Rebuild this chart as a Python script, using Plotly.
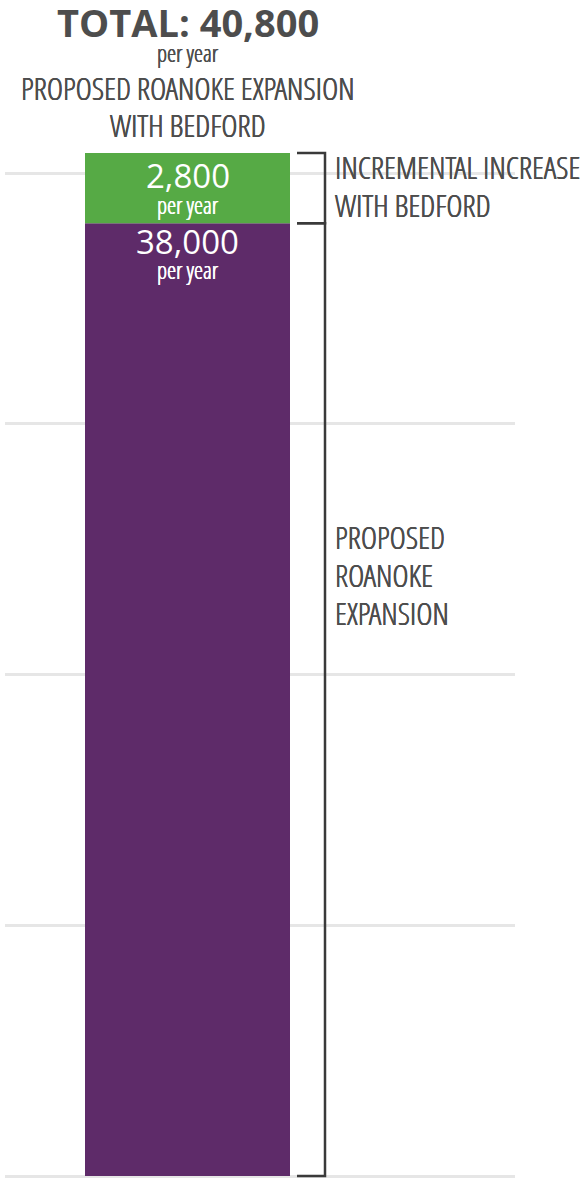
import plotly.graph_objects as go

# ---- data ----
segments = ["PROPOSED ROANOKE EXPANSION", "INCREMENTAL INCREASE WITH BEDFORD"]
values = [38000, 2800]
value_labels = ["38,000", "2,800"]
colors = ["#5E2B69", "#56AA45"]
total = sum(values)
grid_ticks = [0, 10000, 20000, 30000, 40000]
title_lines = ["PROPOSED ROANOKE EXPANSION", "WITH BEDFORD"]
side_labels = [["PROPOSED", "ROANOKE", "EXPANSION"], ["INCREMENTAL INCREASE", "WITH BEDFORD"]]

W, H = 585, 1178
COND = "Open Sans Condensed Light, Roboto Condensed, sans-serif"
GRAY = "#4D4D4D"
SHADOW = "0.35px 0 0 #4D4D4D, -0.35px 0 0 #4D4D4D"
WSHADOW = "0.35px 0 0 #FFFFFF, -0.35px 0 0 #FFFFFF"

# layout geometry (pixels)
plot_l, plot_r = 5, 515
bar_l, bar_r = 85, 290
bar_c = (bar_l + bar_r) / 2
pw = plot_r - plot_l
x0 = -(bar_c - plot_l) / pw
x1 = (plot_r - bar_c) / pw
bar_w = (bar_r - bar_l) / pw

def px_to_x(px):
    return x0 + (px - plot_l) / pw

# y range: 0 at px 1176, 40000 at px 173
span = 40000 * H / (1176 - 173)
ymin = -(H - 1176) / H * span
ymax = ymin + span

def ypaper(px):
    return 1 - px / H

fig = go.Figure()
base = 0
for seg, v, c in zip(segments, values, colors):
    fig.add_trace(go.Bar(x=[0], y=[v], base=[base], width=bar_w, marker=dict(color=c, line=dict(width=0)),
                         name=seg, hoverinfo="skip"))
    base += v

annotations = []
def ann(text, x, ypx, size, family=COND, color=GRAY, xanchor="center", shadow=SHADOW, weight="normal"):
    annotations.append(dict(text=text, x=x, xref="x", xanchor=xanchor, y=ypaper(ypx), yref="paper",
                            yanchor="middle", showarrow=False,
                            font=dict(family=family, size=size, color=color, shadow=shadow, weight=weight)))

# top titles
ann(f"TOTAL: {total:,}", 0, 22, 38, family="Open Sans, sans-serif", weight="bold", shadow="none")
ann("per year", 0, 53, 23)
for i, t in enumerate(title_lines):
    ann(t, 0, 88 + 37 * i, 31)

# in-bar labels (offsets from top of each segment, pixels)
num_off = [18, 23]
per_off = [47, 52]
base = 0
for i, (v, lab) in enumerate(zip(values, value_labels)):
    top = base + v
    annotations.append(dict(text=lab, x=0, xref="x", y=top, yref="y", yanchor="middle", yshift=-num_off[i],
                            showarrow=False, font=dict(family="Open Sans, sans-serif", size=33, color="white")))
    annotations.append(dict(text="per year", x=0, xref="x", y=top, yref="y", yanchor="middle", yshift=-per_off[i],
                            showarrow=False, font=dict(family=COND, size=23, color="white", shadow=WSHADOW)))
    base = top

# right-side labels
label_x = px_to_x(333)
for i, t in enumerate(side_labels[1]):
    ann(t, label_x, 167 + 38 * i, 31, xanchor="left")
for i, t in enumerate(side_labels[0]):
    ann(t, label_x, 537 + 38 * i, 31, xanchor="left")

# brackets
shapes = []
bx_in, bx_out = px_to_x(297), px_to_x(325)
line = dict(color="#3A3A3A", width=2.5)
b0 = 0
for v in values:
    b1 = b0 + v
    shapes.append(dict(type="path", xref="x", yref="y",
                       path=f"M {bx_in},{b1} L {bx_out},{b1} L {bx_out},{b0} L {bx_in},{b0}",
                       line=line))
    b0 = b1

fig.update_layout(
    width=W, height=H,
    margin=dict(l=plot_l, r=W - plot_r, t=0, b=0),
    paper_bgcolor="white", plot_bgcolor="white",
    showlegend=False, barmode="overlay",
    xaxis=dict(range=[x0, x1], visible=False, fixedrange=True),
    yaxis=dict(range=[ymin, ymax], tickvals=grid_ticks, showticklabels=False, ticks="",
               showgrid=True, gridcolor="#E6E6E6", gridwidth=2.5,
               zeroline=False, showline=False, fixedrange=True),
    annotations=annotations, shapes=shapes,
)

fig.write_html("out.html", config={"displayModeBar": False},
               post_script="document.body.style.margin='0';")
